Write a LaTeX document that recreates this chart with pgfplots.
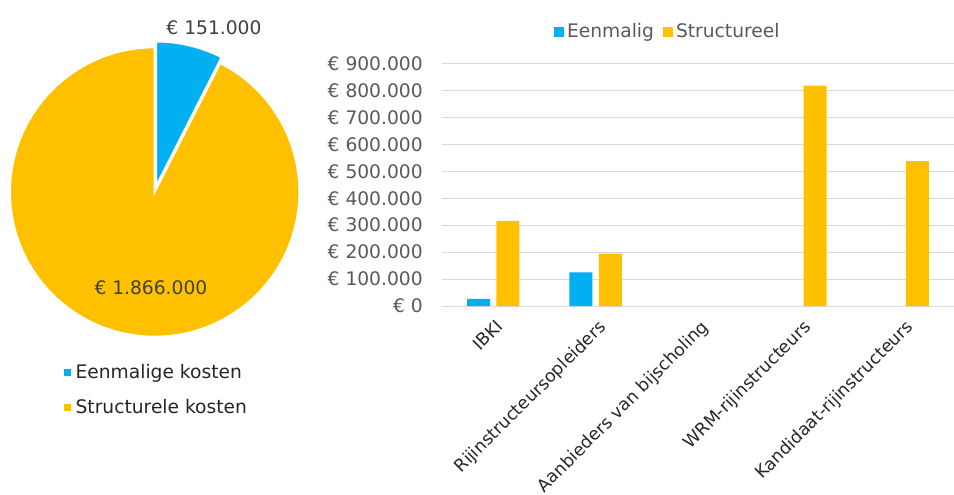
\documentclass[border=0pt]{standalone}
\usepackage{fontspec}
\setmainfont{DejaVu Sans}
\usepackage{pgfplots}
\pgfplotsset{compat=1.18}
\definecolor{cblue}{HTML}{00B0F0}
\definecolor{corange}{HTML}{FFC000}
\definecolor{tgray}{HTML}{595959}
\definecolor{tdark}{HTML}{404040}
\definecolor{tblack}{HTML}{262626}
\definecolor{gridc}{HTML}{D9D9D9}
\pgfplotsset{
  sqlegend/.style={legend image code/.code={\fill[##1] (0pt,-3.75pt) rectangle (7.5pt,3.75pt);}},
  sqlegendsmall/.style={legend image code/.code={\fill[##1] (0pt,-2.6pt) rectangle (5.2pt,2.6pt);}},
}
\begin{document}
\fontsize{14pt}{17pt}\selectfont
\begin{tikzpicture}
\path[use as bounding box] (0,0) rectangle (715.5pt,370.5pt);
% pie data (values in thousands of euro)
\def\vA{151}
\def\vB{1866}
\pgfmathsetmacro{\angA}{\vA/(\vA+\vB)*360}
\pgfmathsetmacro{\angStart}{90-\angA}
\pgfmathsetmacro{\angMid}{90-\angA/2}
\pgfmathsetmacro{\angEnd}{450-\angA}
\begin{axis}[at={(116pt,226.5pt)}, anchor=center, scale only axis,
  width=217pt, height=217pt, xmin=-1, xmax=1, ymin=-1, ymax=1,
  hide axis, clip=false,
  legend style={at={(0.172,-0.075)}, anchor=north west, draw=none, fill=none,
    legend columns=1, text=tblack, font=\fontsize{14pt}{17pt}\selectfont,
    row sep=9.5pt, nodes={inner sep=2pt, inner xsep=3.5pt}},
  legend cell align=left]
\addlegendimage{fill=cblue, draw=none, sqlegendsmall}
\addlegendentry{Eenmalige kosten}
\addlegendimage{fill=corange, draw=none, sqlegendsmall}
\addlegendentry{Structurele kosten}
\coordinate (O) at (axis cs:0,0);
\fill[corange, draw=white, line width=1.5pt] (O) -- ++(90:108.5pt)
   arc[start angle=90, end angle=\angEnd, radius=108.5pt] -- cycle;
\fill[cblue, draw=white, line width=1.5pt] (O) ++(\angMid:4.5pt) -- ++(\angStart:108.5pt)
   arc[start angle=\angStart, end angle=90, radius=108.5pt] -- cycle;
\node[tdark] at (axis cs:0.41,1.133) {€ 151.000};
\node[tdark] at (axis cs:-0.026,-0.663) {€ 1.866.000};
\end{axis}
% bar chart
\begin{axis}[at={(331.5pt,141pt)}, anchor=south west, scale only axis,
  width=384pt, height=181.875pt,
  ybar=4.75pt, bar width=17.25pt,
  xmin=-0.5, xmax=4.5, ymin=0, ymax=900000,
  xtick={0,1,2,3,4},
  xticklabels={IBKI, Rijinstructeursopleiders, Aanbieders van bijscholing, WRM-rijinstructeurs, Kandidaat-rijinstructeurs},
  xticklabel style={rotate=45, anchor=north east, text=tblack, font=\fontsize{13pt}{16pt}\selectfont, xshift=2pt},
  ytick={0,100000,200000,300000,400000,500000,600000,700000,800000,900000},
  yticklabels={€ 0, € 100.000, € 200.000, € 300.000, € 400.000, € 500.000, € 600.000, € 700.000, € 800.000, € 900.000},
  yticklabel style={text=tgray, xshift=-9.6pt, font=\fontsize{14pt}{17pt}\selectfont},
  scaled y ticks=false,
  axis line style={draw=none}, major tick style={draw=none},
  ymajorgrids, grid style={gridc, line width=0.75pt},
  legend style={at={(0.442,1.13)}, anchor=center, draw=none, fill=none,
    legend columns=-1, text=tgray, font=\fontsize{14pt}{17pt}\selectfont,
    nodes={inner sep=2pt, inner xsep=2.5pt},
    /tikz/every even column/.append style={column sep=4pt}},
  clip=false]
\addplot[fill=cblue, draw=none, sqlegend] coordinates {(0,26000) (1,125000)};
\addlegendentry{Eenmalig}
\addplot[fill=corange, draw=none, sqlegend] coordinates {(0,316000) (1,194000) (3,818000) (4,538000)};
\addlegendentry{Structureel}
\end{axis}
\end{tikzpicture}
\end{document}
